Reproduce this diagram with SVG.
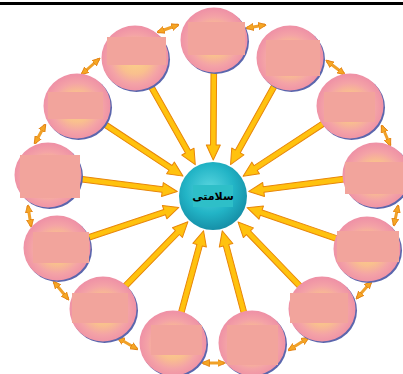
<svg xmlns="http://www.w3.org/2000/svg" width="403" height="374" viewBox="0 0 403 374">
<defs>
<radialGradient id="pink" cx="50%" cy="52%" r="50%">
<stop offset="0" stop-color="#fcd487"/>
<stop offset="0.45" stop-color="#f9c08e"/>
<stop offset="0.75" stop-color="#f4a3a6"/>
<stop offset="1" stop-color="#ef92a6"/>
</radialGradient>
<radialGradient id="teal" cx="45%" cy="40%" r="60%">
<stop offset="0" stop-color="#5ad6df"/>
<stop offset="0.6" stop-color="#22b4c6"/>
<stop offset="1" stop-color="#1690a8"/>
</radialGradient>
<marker id="dh" viewBox="0 0 8 8" refX="6.5" refY="4" markerWidth="8" markerHeight="8" markerUnits="userSpaceOnUse" orient="auto-start-reverse">
<path d="M0,0.5 L8,4 L0,7.5 z" fill="#f5a623" stroke="#e07c10" stroke-width="0.8"/>
</marker>
<style>
.arr{fill:#ffc20e;stroke:#e8860a;stroke-width:1;stroke-linejoin:round}
.dbl{stroke:#f0a028;stroke-width:3;marker-start:url(#dh);marker-end:url(#dh)}
.sh{fill:#5b66ad}
.ball{fill:url(#pink)}
.lab{fill:#f2a49c}
</style>
</defs>
<rect width="403" height="374" fill="#ffffff"/>
<line x1="0" y1="3.5" x2="403" y2="3.5" stroke="#000" stroke-width="3"/>
<g id="connectors">
<polygon class="arr" transform="translate(213 196) rotate(-89.63)" points="36,0 51,-7 51,-2.8 126,-2.8 126,2.8 51,2.8 51,7"/>
<polygon class="arr" transform="translate(213 196) rotate(-60.84)" points="36,0 51,-7 51,-2.8 128,-2.8 128,2.8 51,2.8 51,7"/>
<polygon class="arr" transform="translate(213 196) rotate(-33.30)" points="36,0 51,-7 51,-2.8 134,-2.8 134,2.8 51,2.8 51,7"/>
<polygon class="arr" transform="translate(213 196) rotate(-7.34)" points="36,0 51,-7 51,-2.8 134,-2.8 134,2.8 51,2.8 51,7"/>
<polygon class="arr" transform="translate(213 196) rotate(18.99)" points="36,0 51,-7 51,-2.8 133,-2.8 133,2.8 51,2.8 51,7"/>
<polygon class="arr" transform="translate(213 196) rotate(46.04)" points="36,0 51,-7 51,-2.8 127,-2.8 127,2.8 51,2.8 51,7"/>
<polygon class="arr" transform="translate(213 196) rotate(75.14)" points="36,0 51,-7 51,-2.8 122,-2.8 122,2.8 51,2.8 51,7"/>
<polygon class="arr" transform="translate(213 196) rotate(105.22)" points="36,0 51,-7 51,-2.8 122,-2.8 122,2.8 51,2.8 51,7"/>
<polygon class="arr" transform="translate(213 196) rotate(134.23)" points="36,0 51,-7 51,-2.8 128,-2.8 128,2.8 51,2.8 51,7"/>
<polygon class="arr" transform="translate(213 196) rotate(161.57)" points="36,0 51,-7 51,-2.8 134,-2.8 134,2.8 51,2.8 51,7"/>
<polygon class="arr" transform="translate(213 196) rotate(-172.75)" points="36,0 51,-7 51,-2.8 136,-2.8 136,2.8 51,2.8 51,7"/>
<polygon class="arr" transform="translate(213 196) rotate(-146.50)" points="36,0 51,-7 51,-2.8 133,-2.8 133,2.8 51,2.8 51,7"/>
<polygon class="arr" transform="translate(213 196) rotate(-119.48)" points="36,0 51,-7 51,-2.8 128,-2.8 128,2.8 51,2.8 51,7"/>
<line class="dbl" x1="247" y1="28" x2="265" y2="25"/>
<line class="dbl" x1="327" y1="61" x2="344" y2="74"/>
<line class="dbl" x1="382" y1="126" x2="390" y2="145"/>
<line class="dbl" x1="398" y1="206" x2="394" y2="225"/>
<line class="dbl" x1="371" y1="282" x2="357" y2="298"/>
<line class="dbl" x1="308" y1="338" x2="289" y2="350"/>
<line class="dbl" x1="203" y1="363" x2="224" y2="363"/>
<line class="dbl" x1="118" y1="338" x2="137" y2="349"/>
<line class="dbl" x1="54" y1="282" x2="68" y2="299"/>
<line class="dbl" x1="28" y1="206" x2="31" y2="226"/>
<line class="dbl" x1="45" y1="125" x2="35" y2="143"/>
<line class="dbl" x1="82" y1="74" x2="99" y2="59"/>
<line class="dbl" x1="158" y1="32" x2="178" y2="25"/>
</g>
<g id="n1"><ellipse class="sh" cx="215.5" cy="41.5" rx="33.5" ry="32.5"/><ellipse class="ball" cx="214" cy="40" rx="33.5" ry="32.5"/><rect class="lab" x="188" y="22" width="57" height="33"/></g>
<g id="n2"><ellipse class="sh" cx="291.5" cy="59.5" rx="33.5" ry="32.5"/><ellipse class="ball" cx="290" cy="58" rx="33.5" ry="32.5"/><rect class="lab" x="266" y="40" width="54" height="36"/></g>
<g id="n3"><ellipse class="sh" cx="351.5" cy="107.5" rx="33.5" ry="32.5"/><ellipse class="ball" cx="350" cy="106" rx="33.5" ry="32.5"/><rect class="lab" x="324" y="92" width="51" height="30"/></g>
<g id="n4"><ellipse class="sh" cx="377.5" cy="176.5" rx="33.5" ry="32.5"/><ellipse class="ball" cx="376" cy="175" rx="33.5" ry="32.5"/><rect class="lab" x="345" y="162" width="58" height="32"/></g>
<g id="n5"><ellipse class="sh" cx="368.5" cy="250.5" rx="33.5" ry="32.5"/><ellipse class="ball" cx="367" cy="249" rx="33.5" ry="32.5"/><rect class="lab" x="337" y="231" width="62" height="31"/></g>
<g id="n6"><ellipse class="sh" cx="323.5" cy="310.5" rx="33.5" ry="32.5"/><ellipse class="ball" cx="322" cy="309" rx="33.5" ry="32.5"/><rect class="lab" x="290" y="293" width="58" height="30"/></g>
<g id="n7"><ellipse class="sh" cx="253.5" cy="344.5" rx="33.5" ry="32.5"/><ellipse class="ball" cx="252" cy="343" rx="33.5" ry="32.5"/><rect class="lab" x="227" y="325" width="51" height="40"/></g>
<g id="n8"><ellipse class="sh" cx="174.5" cy="344.5" rx="33.5" ry="32.5"/><ellipse class="ball" cx="173" cy="343" rx="33.5" ry="32.5"/><rect class="lab" x="151" y="325" width="51" height="30"/></g>
<g id="n9"><ellipse class="sh" cx="104.5" cy="310.5" rx="33.5" ry="32.5"/><ellipse class="ball" cx="103" cy="309" rx="33.5" ry="32.5"/><rect class="lab" x="72" y="293" width="56" height="30"/></g>
<g id="n10"><ellipse class="sh" cx="58.5" cy="249.5" rx="33.5" ry="32.5"/><ellipse class="ball" cx="57" cy="248" rx="33.5" ry="32.5"/><rect class="lab" x="33" y="232" width="56" height="31"/></g>
<g id="n11"><ellipse class="sh" cx="49.5" cy="176.5" rx="33.5" ry="32.5"/><ellipse class="ball" cx="48" cy="175" rx="33.5" ry="32.5"/><rect class="lab" x="20" y="155" width="60" height="43"/></g>
<g id="n12"><ellipse class="sh" cx="78.5" cy="107.5" rx="33.5" ry="32.5"/><ellipse class="ball" cx="77" cy="106" rx="33.5" ry="32.5"/><rect class="lab" x="48" y="92" width="55" height="27"/></g>
<g id="n13"><ellipse class="sh" cx="136.5" cy="59.5" rx="33.5" ry="32.5"/><ellipse class="ball" cx="135" cy="58" rx="33.5" ry="32.5"/><rect class="lab" x="107" y="37" width="59" height="28"/></g>
<g id="center"><circle cx="213" cy="196" r="34" fill="url(#teal)"/><rect x="193" y="185" width="40" height="22" fill="#2ebfc8"/><text x="213" y="200" text-anchor="middle" font-family="'DejaVu Sans', sans-serif" font-weight="bold" font-size="11" fill="#000">سلامتی</text></g>
</svg>
